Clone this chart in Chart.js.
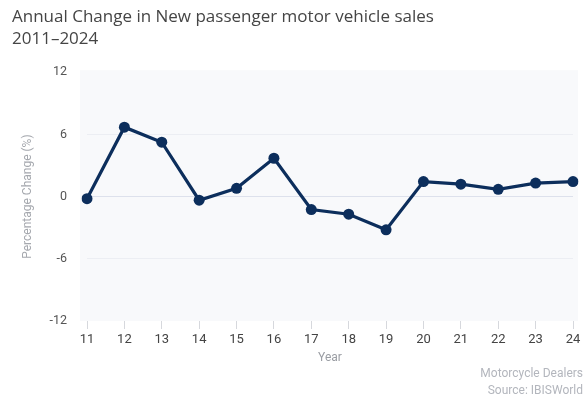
<!DOCTYPE html>
<html>
<head>
<meta charset="utf-8">
<script src="https://cdn.jsdelivr.net/npm/chart.js@4/dist/chart.umd.min.js"></script>
<style>
  html, body { margin: 0; padding: 0; background: #ffffff; }
  #wrap { width: 587px; height: 398px; }
</style>
</head>
<body>
<div id="wrap"><canvas id="chart" width="587" height="398"></canvas></div>
<script>
// Year labels (two-digit) and annual percentage change in sales
const years = ['11', '12', '13', '14', '15', '16', '17', '18', '19', '20', '21', '22', '23', '24'];
const annualChange = [-0.2, 6.7, 5.25, -0.35, 0.8, 3.7, -1.25, -1.7, -3.2, 1.45, 1.2, 0.7, 1.3, 1.45];
const yTicks = [-12, -6, 0, 6, 12];

const titleLines = ['Annual Change in New passenger motor vehicle sales', '2011\u20132024'];
const footerLines = ['Motorcycle Dealers', 'Source: IBISWorld'];

const navy = '#0c2e5c';

// Light panel behind the plot, slightly wider than the plotting area
const panelPlugin = {
  id: 'panel',
  beforeDraw(chart) {
    const { ctx, chartArea: a } = chart;
    ctx.save();
    ctx.fillStyle = '#f8f9fb';
    ctx.fillRect(a.left - 7, a.top - 2, a.right - a.left + 12, a.bottom - a.top + 2);
    ctx.restore();
  }
};

// Source note in the bottom-right corner
const footerPlugin = {
  id: 'footer',
  afterDraw(chart) {
    const { ctx, width } = chart;
    ctx.save();
    ctx.font = '12px Roboto, "Open Sans", sans-serif';
    ctx.fillStyle = '#b3b6bd';
    ctx.textAlign = 'right';
    ctx.textBaseline = 'middle';
    ctx.fillText(footerLines[0], width - 4, 374);
    ctx.fillText(footerLines[1], width - 4, 391);
    ctx.restore();
  }
};

new Chart(document.getElementById('chart'), {
  type: 'line',
  data: {
    labels: years,
    datasets: [{
      data: annualChange,
      borderColor: navy,
      backgroundColor: navy,
      borderWidth: 3.2,
      pointRadius: 5.5,
      pointHoverRadius: 5.5,
      pointBorderWidth: 0,
      tension: 0,
      fill: false
    }]
  },
  options: {
    responsive: false,
    animation: false,
    layout: { padding: { left: 12, right: 14, top: 0, bottom: 0 } },
    plugins: {
      legend: { display: false },
      tooltip: { enabled: false },
      title: {
        display: true,
        text: titleLines,
        align: 'start',
        color: '#454545',
        font: { family: '"Open Sans", "Noto Sans", sans-serif', size: 17, weight: 'normal', lineHeight: 1.3 },
        padding: { top: 6, bottom: 22 }
      }
    },
    scales: {
      x: {
        offset: false,
        border: { display: false },
        grid: { drawOnChartArea: false, drawTicks: true, tickLength: 8, color: '#d6d8dd' },
        ticks: {
          color: '#444',
          padding: 3,
          maxRotation: 0,
          autoSkip: false,
          font: { family: 'Roboto, sans-serif', size: 13 }
        },
        title: {
          display: true,
          text: 'Year',
          color: '#9a9da3',
          font: { family: 'Roboto, sans-serif', size: 12 },
          padding: { top: 4, bottom: 33 }
        },
        afterFit(scale) { scale.height = 77; }
      },
      y: {
        min: -12,
        max: 12,
        border: { display: false },
        afterBuildTicks(scale) { scale.ticks = yTicks.map(v => ({ value: v })); },
        grid: {
          drawTicks: false,
          lineWidth: 1,
          color(ctx) {
            const v = ctx.tick && ctx.tick.value;
            if (v === 0) return '#dde1ec';
            if (v === 12 || v === -12) return 'rgba(0,0,0,0)';
            return '#eceef3';
          }
        },
        ticks: {
          color: '#555',
          padding: 20,
          font: { family: 'Roboto, sans-serif', size: 12.5 }
        },
        title: {
          display: true,
          text: 'Percentage Change (%)',
          color: '#a5a8ae',
          font: { family: 'Roboto, sans-serif', size: 12 },
          padding: { top: 9, bottom: 0 }
        },
        afterFit(scale) { scale.width = 75; }
      }
    }
  },
  plugins: [panelPlugin, footerPlugin]
});
</script>
</body>
</html>
